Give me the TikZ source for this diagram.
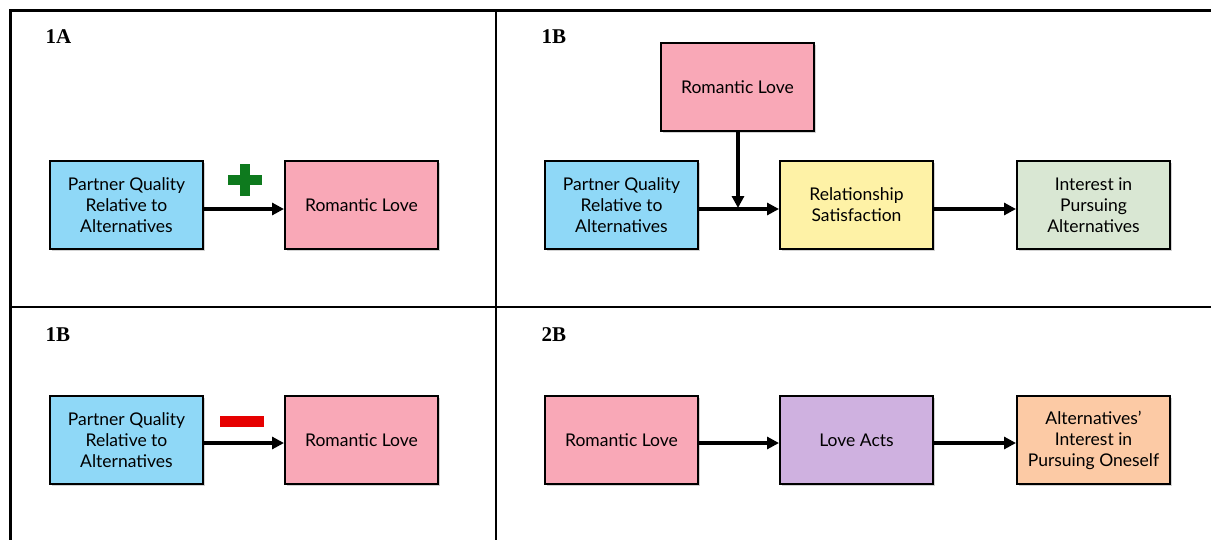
\documentclass[tikz,border=0pt]{standalone}
\usepackage{fontspec}
\setmainfont{Lato}
\newfontfamily\labelfont{Liberation Serif}
\usetikzlibrary{arrows.meta,shadows}
\definecolor{cblue}{HTML}{8FD8F7}
\definecolor{cpink}{HTML}{F9A8B7}
\definecolor{cyellow}{HTML}{FEF2A6}
\definecolor{cgreen}{HTML}{D9E7D3}
\definecolor{cpurple}{HTML}{CFB1E0}
\definecolor{corange}{HTML}{FCCAA5}
\definecolor{cplus}{HTML}{0E7A1E}
\definecolor{cminus}{HTML}{E60000}
\tikzset{
  box/.style={draw=black, line width=2pt, minimum width=153pt, minimum height=88pt,
    inner sep=2pt, align=center, font=\fontsize{17.5}{21}\selectfont,
    drop shadow={shadow xshift=1.5pt, shadow yshift=-1.5pt, opacity=0.35, fill=gray}},
  arr/.style={line width=3.5pt, -{Triangle[length=12pt,width=12pt]}},
  frame/.style={line width=3pt, black},
  divider/.style={line width=2pt, black},
  plabel/.style={font=\labelfont\bfseries\fontsize{21}{24}\selectfont, anchor=base west}
}
\begin{document}
\begin{tikzpicture}[x=1pt,y=-1pt]
\useasboundingbox (0,0) rectangle (1211,539);
% frame
\draw[frame] (10.5,545) -- (10.5,10.5) -- (1216,10.5);
\draw[divider] (10,307) -- (1216,307);
\draw[divider] (496,10) -- (496,545);
% panel labels
\node[plabel] (l1) at (42,43) {1A};
\node[plabel] (l2) at (538,43) {1B};
\node[plabel] (l3) at (42,341) {1B};
\node[plabel] (l4) at (538,341) {2B};
% 1A
\node[box, fill=cblue] (a1) at (126.5,205) {Partner Quality\\Relative to\\Alternatives};
\node[box, fill=cpink] (a2) at (361.5,205) {Romantic Love};
\coordinate (ya) at (0,209);
\draw[arr] (a1.east |- ya) -- (a2.west |- ya);
\fill[cplus] (239.5,164) rectangle (249.5,196);
\fill[cplus] (227.5,175) rectangle (261.5,185);
% 1B top
\node[box, fill=cpink] (b0) at (737.5,87) {Romantic Love};
\node[box, fill=cblue] (b1) at (621.5,205) {Partner Quality\\Relative to\\Alternatives};
\node[box, fill=cyellow] (b2) at (856.5,205) {Relationship\\Satisfaction};
\node[box, fill=cgreen] (b3) at (1093.5,205) {Interest in\\Pursuing\\Alternatives};
\draw[arr] (b1.east |- ya) -- (b2.west |- ya);
\coordinate (bm) at (738,208);
\draw[arr] (b0.south -| bm) -- (bm);
\draw[arr] (b2.east |- ya) -- (b3.west |- ya);
% 1B bottom
\coordinate (yc) at (0,443);
\node[box, fill=cblue] (c1) at (126.5,440) {Partner Quality\\Relative to\\Alternatives};
\node[box, fill=cpink] (c2) at (361.5,440) {Romantic Love};
\draw[arr] (c1.east |- yc) -- (c2.west |- yc);
\fill[cminus] (220,416) rectangle (264,427);
% 2B
\node[box, fill=cpink] (d1) at (621.5,440) {Romantic Love};
\node[box, fill=cpurple] (d2) at (856.5,440) {Love Acts};
\node[box, fill=corange] (d3) at (1093.5,440) {Alternatives'\\Interest in\\Pursuing Oneself};
\draw[arr] (d1.east |- yc) -- (d2.west |- yc);
\draw[arr] (d2.east |- yc) -- (d3.west |- yc);
\end{tikzpicture}
\end{document}
